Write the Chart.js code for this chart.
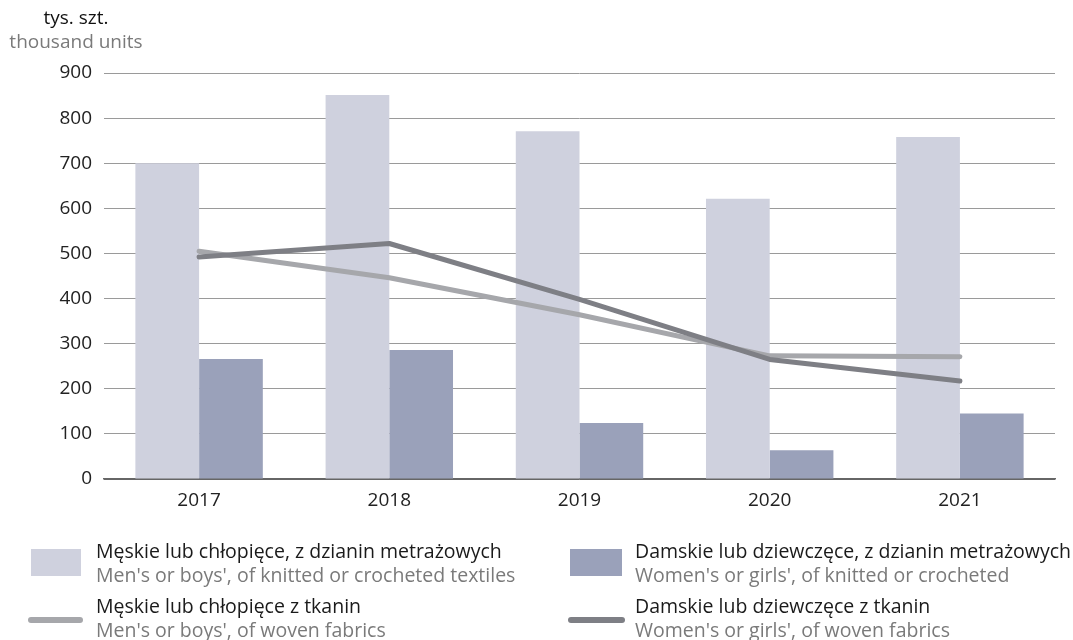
<!DOCTYPE html>
<html><head><meta charset="utf-8">
<script src="https://cdn.jsdelivr.net/npm/chart.js@4"></script>
<style>
html,body{margin:0;padding:0;background:#fff;}
body{width:1073px;height:640px;position:relative;overflow:hidden;font-family:"Open Sans",sans-serif;}
#c{position:absolute;left:0;top:0;}
.t{position:absolute;white-space:nowrap;font-size:19.5px;line-height:24px;}
.pl{color:#1a1a1a;}
.en{color:#7a7a7a;}
.sq{position:absolute;}
.ln{position:absolute;height:6px;border-radius:3px;}
.ttl{position:absolute;white-space:nowrap;font-size:19px;line-height:20px;width:152px;left:0;text-align:center;}
</style></head><body>
<canvas id="c" width="1073" height="640"></canvas>
<div class="ttl pl" style="top:7px;color:#111;">tys. szt.</div>
<div class="ttl en" style="top:31px;">thousand units</div>

<div class="sq" style="left:31px;top:549px;width:50px;height:27px;background:#cfd1de"></div>
<div class="t pl" style="left:96px;top:539px;">Męskie lub chłopięce, z dzianin metrażowych</div>
<div class="t en" style="left:96px;top:563px;">Men's or boys', of knitted or crocheted textiles</div>
<div class="ln" style="left:28px;top:617px;width:55px;background:#a6a7ab"></div>
<div class="t pl" style="left:96px;top:594px;">Męskie lub chłopięce z tkanin</div>
<div class="t en" style="left:96px;top:618px;">Men's or boys', of woven fabrics</div>

<div class="sq" style="left:570px;top:549px;width:52px;height:27px;background:#9aa1ba"></div>
<div class="t pl" style="left:635px;top:539px;">Damskie lub dziewczęce, z dzianin metrażowych</div>
<div class="t en" style="left:635px;top:563px;">Women's or girls', of knitted or crocheted</div>
<div class="ln" style="left:568px;top:617px;width:57px;background:#7e7f85"></div>
<div class="t pl" style="left:635px;top:594px;">Damskie lub dziewczęce z tkanin</div>
<div class="t en" style="left:635px;top:618px;">Women's or girls', of woven fabrics</div>

<script>
const years = ['2017','2018','2019','2020','2021'];
const mensKnitted = [700, 851, 771, 621, 758];
const womensKnitted = [266, 286, 124, 64, 145];
const mensWoven = [505, 446, 364, 273, 271];
const womensWoven = [492, 522, 398, 265, 217];
const yTicks = [0,100,200,300,400,500,600,700,800,900];

const tickFont = {family:'"Open Sans", sans-serif', size:19};
new Chart(document.getElementById('c'), {
  data: {
    labels: years,
    datasets: [
      {type:'bar', label:'Męskie lub chłopięce, z dzianin metrażowych', data:mensKnitted, backgroundColor:'#cfd1de', order:3, categoryPercentage:0.67, barPercentage:1},
      {type:'bar', label:'Damskie lub dziewczęce, z dzianin metrażowych', data:womensKnitted, backgroundColor:'#9aa1ba', order:3, categoryPercentage:0.67, barPercentage:1},
      {type:'line', label:'Męskie lub chłopięce z tkanin', data:mensWoven, borderColor:'#a6a7ab', borderWidth:5, pointRadius:0, tension:0, borderCapStyle:'round', borderJoinStyle:'round', order:2},
      {type:'line', label:'Damskie lub dziewczęce z tkanin', data:womensWoven, borderColor:'#7e7f85', borderWidth:5, pointRadius:0, tension:0, borderCapStyle:'round', borderJoinStyle:'round', order:1}
    ]
  },
  options: {
    responsive:false, animation:false,
    layout:{padding:{left:0,right:18,top:73,bottom:0}},
    plugins:{legend:{display:false}, tooltip:{enabled:false}},
    scales:{
      x:{
        grid:{display:false, drawTicks:false},
        border:{display:true,color:'#666',width:1.5},
        ticks:{color:'#222',font:tickFont,padding:10},
        afterFit(s){ s.height = 161; }
      },
      y:{
        min:0,max:900,
        afterBuildTicks(s){ s.ticks = yTicks.map(v=>({value:v})); },
        grid:{color:(ctx)=> ctx.tick && ctx.tick.value===0 ? '#666' : '#9a9a9a', lineWidth:1, drawTicks:false},
        border:{display:false},
        ticks:{color:'#222',font:tickFont,padding:12},
        afterFit(s){ s.width = 104; }
      }
    }
  }
});
</script>
</body></html>
